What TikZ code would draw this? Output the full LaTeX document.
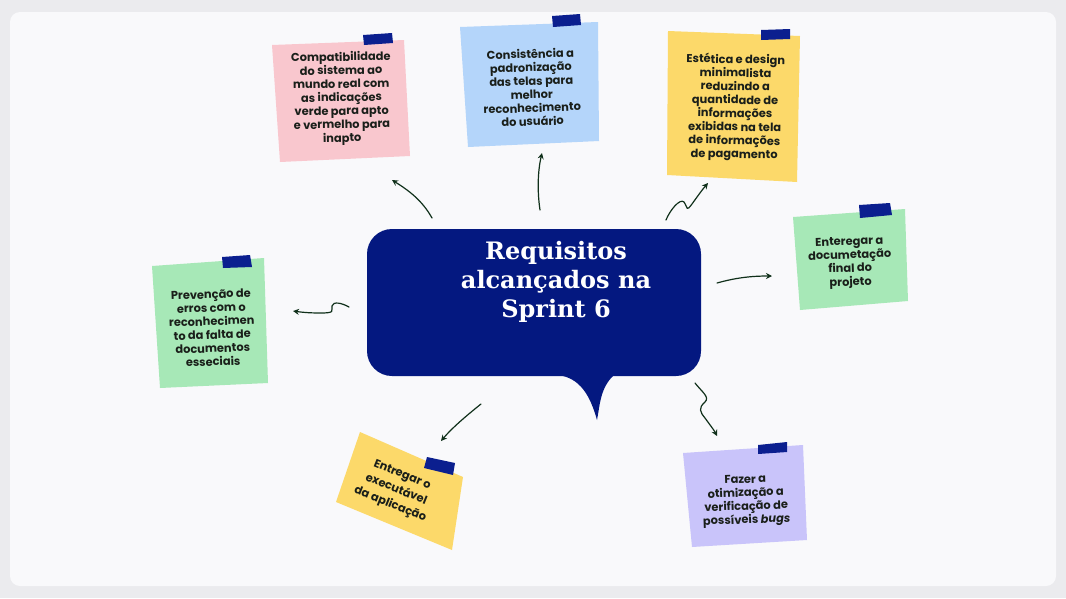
\documentclass[tikz,border=0pt]{standalone}
\usepackage{fontspec}
\setmainfont{Poppins}
\newfontfamily\titlefont{DejaVu Serif}
\usetikzlibrary{arrows.meta}
\definecolor{outerbg}{HTML}{EBEBEE}
\definecolor{cardbg}{HTML}{F9F9FB}
\definecolor{navy}{HTML}{041880}
\definecolor{tapec}{HTML}{0B1F8F}
\definecolor{pinkn}{HTML}{F9C7CE}
\definecolor{bluen}{HTML}{B4D5FA}
\definecolor{yellown}{HTML}{FCD96A}
\definecolor{greenn}{HTML}{A7E8B7}
\definecolor{purplen}{HTML}{C9C4FA}
\definecolor{inkc}{HTML}{1A1F1A}
\definecolor{arrowc}{HTML}{10301A}
\tikzset{
  notetext/.style={align=center, text=inkc, font=\fontsize{11.4}{13.5}\selectfont\bfseries, inner sep=0pt},
  tape/.style={fill=tapec},
  conn/.style={draw=arrowc, line width=1.2pt, line cap=round, -{Stealth[length=6pt,width=6pt]}},
}
\begin{document}
\begin{tikzpicture}[x=1pt,y=-1pt]
\useasboundingbox (0,0) rectangle (1066,598);
\fill[outerbg] (0,0) rectangle (1066,598);
\fill[cardbg, rounded corners=10pt] (10,12) rectangle (1056,586);

% speech bubble
\node[fill=navy, rounded corners=25pt, minimum width=334pt, minimum height=147pt, inner sep=0pt] (bubble) at (534,302.5) {};
\fill[navy] (558,375) .. controls (580,378) and (590,395) .. (597,420) .. controls (600,405) and (600,388) .. (614,375) -- cycle;
\node[text=white, align=center, font=\titlefont\bfseries\fontsize{24}{29}\selectfont, inner sep=0pt] (title) at (556,282) {Requisitos\\alcançados na\\Sprint 6};

% note 1 pink
\fill[pinkn] (272,45) -- (404,40) -- (410,156) -- (280,162) -- cycle;
\fill[tape] (363,35) -- (392,33) -- (393,43) -- (364,45) -- cycle;
\node[notetext, rotate=1] (n1) at (341.5,98.5) {Compatibilidade\\do sistema ao\\mundo real com\\as indicações\\verde para apto\\e vermelho para\\inapto};

% note 2 blue
\fill[bluen] (460,27) -- (598,22) -- (599,141) -- (468,147) -- cycle;
\fill[tape] (552,16) -- (580,14) -- (581,25) -- (553,27) -- cycle;
\node[notetext, rotate=2] (n2) at (531.5,87.5) {Consistência a\\padronização\\das telas para\\melhor\\reconhecimento\\do usuário};

% note 3 yellow
\fill[yellown] (668,31) -- (800,36) -- (797,182) -- (667,175) -- cycle;
\fill[tape] (761,30) -- (790,29) -- (790,39) -- (761,40) -- cycle;
\node[notetext, rotate=-1] (n3) at (735,107.5) {Estética e design\\minimalista\\reduzindo a\\quantidade de\\informações\\exibidas na tela\\de informações\\de pagamento};

% note 4 green right
\fill[greenn] (793,217) -- (905,209) -- (908,301) -- (800,310) -- cycle;
\fill[tape] (859,205) -- (890,203) -- (892,215) -- (860,218) -- cycle;
\node[notetext, rotate=2] (n4) at (850,263) {Enteregar a\\documetação\\final do\\projeto};

% note 5 green left
\fill[greenn] (152,266) -- (264,258) -- (268,383) -- (160,388) -- cycle;
\fill[tape] (222,257) -- (250,255) -- (252,267) -- (223,268) -- cycle;
\node[notetext, rotate=2] (n5) at (212,328) {Prevenção de\\erros com o\\reconhecimen\\to da falta de\\documentos\\esseciais};

% note 6 yellow rotated
\fill[yellown] (360,432) -- (463,477) -- (452,550) -- (336,502) -- cycle;
\fill[tape] (427,457) -- (455,463) -- (453,475) -- (424,468) -- cycle;
\node[notetext, font=\fontsize{11.4}{16}\selectfont\bfseries, rotate=-22] (n6) at (396,490) {Entregar o\\executável\\da aplicação};

% note 7 purple
\fill[purplen] (683,453) -- (803,445) -- (807,540) -- (692,547) -- cycle;
\fill[tape] (758,445) -- (787,442) -- (787,452) -- (758,454) -- cycle;
\node[notetext, rotate=2] (n7) at (746,501) {Fazer a\\otimização a\\verificação de\\possíveis \textit{bugs}};

% connectors
\coordinate (a1s) at (432,218); \coordinate (a1e) at (392,180);
\coordinate (a2s) at (540,210); \coordinate (a2e) at (542,153);
\coordinate (a3s) at (666,220); \coordinate (a3e) at (708,183);
\coordinate (a4s) at (717,283); \coordinate (a4e) at (772,276);
\coordinate (a5s) at (695,383); \coordinate (a5e) at (717,436);
\coordinate (a6s) at (481,404); \coordinate (a6e) at (441,441);
\coordinate (a7s) at (349,307); \coordinate (a7e) at (293,311);

\draw[conn] (a1s) .. controls (422,200) and (408,190) .. (a1e);
\draw[conn] (a2s) .. controls (537,190) and (538,170) .. (a2e);
\draw[conn] (a3s) .. controls (670,210) and (680,198) .. (684,202)
  .. controls (688,208) and (686,212) .. (692,204)
  .. controls (697,197) and (702,190) .. (a3e);
\draw[conn] (a4s) .. controls (735,278) and (750,276) .. (a4e);
\draw[conn] (a5s) .. controls (702,392) and (710,397) .. (705,402)
  .. controls (698,408) and (700,412) .. (705,418)
  .. controls (710,425) and (714,430) .. (a5e);
\draw[conn] (a6s) .. controls (466,416) and (452,428) .. (a6e);
\draw[conn] (a7s) .. controls (342,303) and (333,301) .. (332,306)
  .. controls (331,311) and (336,313) .. (320,313)
  .. controls (308,313) and (300,312) .. (a7e);
\end{tikzpicture}
\end{document}
